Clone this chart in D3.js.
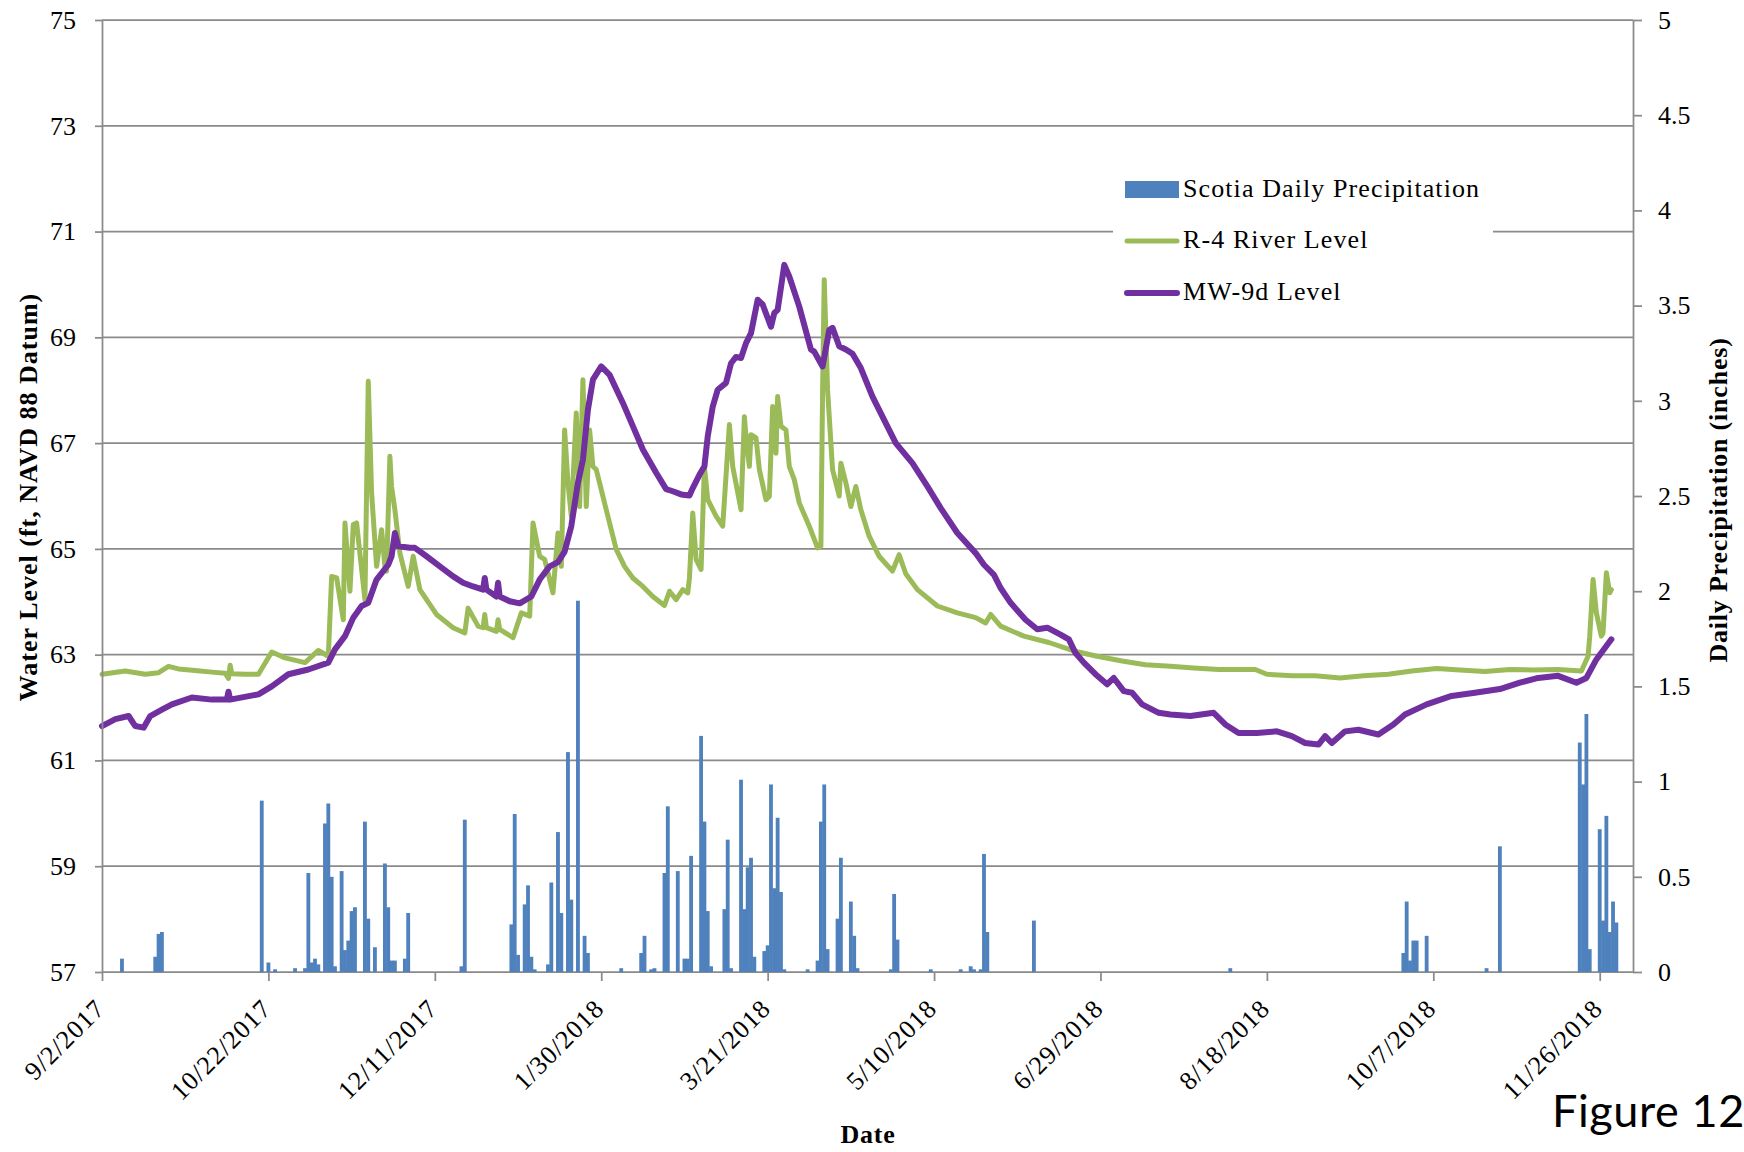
<!DOCTYPE html>
<html><head><meta charset="utf-8">
<script src="https://cdn.jsdelivr.net/npm/d3@7"></script>
<style>
html,body{margin:0;padding:0;background:#fff;}
svg{display:block;}
</style></head><body>
<svg id="chart" width="1744" height="1152"></svg>
<script>
// ---------------- DATA ----------------
const seriesNames = ["Scotia Daily Precipitation", "R-4 River Level", "MW-9d Level"];
const xTickLabels = ["9/2/2017","10/22/2017","12/11/2017","1/30/2018","3/21/2018","5/10/2018","6/29/2018","8/18/2018","10/7/2018","11/26/2018"];
const xDomain = ["2017-09-02", "2018-12-06"];
const leftTicks = [57,59,61,63,65,67,69,71,73,75];
const rightTicks = [0,0.5,1,1.5,2,2.5,3,3.5,4,4.5,5];
const rightTickLabels = ["0","0.5","1","1.5","2","2.5","3","3.5","4","4.5","5"];

const precipDates = ["2017-09-08","2017-09-18","2017-09-19","2017-09-20","2017-10-20","2017-10-22","2017-10-24","2017-10-30",
"2017-11-02","2017-11-03","2017-11-04","2017-11-05","2017-11-06","2017-11-08","2017-11-09","2017-11-10","2017-11-11",
"2017-11-13","2017-11-14","2017-11-15","2017-11-16","2017-11-17","2017-11-20","2017-11-21","2017-11-23","2017-11-26",
"2017-11-27","2017-11-28","2017-11-29","2017-12-02","2017-12-03","2017-12-19","2017-12-20","2018-01-03","2018-01-04",
"2018-01-05","2018-01-07","2018-01-08","2018-01-09","2018-01-10","2018-01-14","2018-01-15","2018-01-17","2018-01-18",
"2018-01-20","2018-01-21","2018-01-23","2018-01-25","2018-01-26","2018-02-05","2018-02-11","2018-02-12","2018-02-14",
"2018-02-15","2018-02-18","2018-02-19","2018-02-22","2018-02-24","2018-02-25","2018-02-26","2018-03-01","2018-03-02",
"2018-03-03","2018-03-04","2018-03-08","2018-03-09","2018-03-10","2018-03-13","2018-03-14","2018-03-15","2018-03-16",
"2018-03-17","2018-03-20","2018-03-21","2018-03-22","2018-03-23","2018-03-24","2018-03-25","2018-03-26","2018-04-02",
"2018-04-05","2018-04-06","2018-04-07","2018-04-08","2018-04-11","2018-04-12","2018-04-15","2018-04-16","2018-04-17",
"2018-04-27","2018-04-28","2018-04-29","2018-05-09","2018-05-18","2018-05-21","2018-05-22","2018-05-24","2018-05-25",
"2018-05-26","2018-06-09","2018-08-07","2018-09-28","2018-09-29","2018-09-30","2018-10-01","2018-10-02","2018-10-05",
"2018-10-23","2018-10-27","2018-11-20","2018-11-21","2018-11-22","2018-11-23","2018-11-26","2018-11-27","2018-11-28",
"2018-11-29","2018-11-30","2018-12-01"];
const precipValues = [0.07,0.08,0.20,0.21,0.90,0.05,0.014,0.02,
0.02,0.52,0.05,0.07,0.04,0.78,0.885,0.50,0.03,
0.53,0.115,0.165,0.32,0.34,0.79,0.28,0.13,0.57,
0.34,0.06,0.06,0.07,0.31,0.03,0.80,0.25,0.83,
0.09,0.355,0.455,0.08,0.014,0.04,0.47,0.735,0.31,
1.155,0.38,1.95,0.19,0.10,0.02,0.10,0.19,0.014,
0.02,0.52,0.87,0.53,0.07,0.07,0.61,1.24,0.79,
0.32,0.03,0.33,0.695,0.02,1.01,0.33,0.55,0.60,
0.08,0.11,0.14,0.985,0.44,0.81,0.42,0.014,0.014,
0.06,0.79,0.985,0.12,0.28,0.60,0.37,0.19,0.02,
0.014,0.41,0.17,0.014,0.014,0.03,0.014,0.014,0.62,
0.21,0.27,0.02,0.10,0.37,0.06,0.165,0.165,0.19,
0.02,0.66,1.205,0.985,1.355,0.12,0.75,0.27,0.82,
0.21,0.37,0.26];

const riverDates = ["2017-09-02","2017-09-09","2017-09-15","2017-09-19","2017-09-22","2017-09-25","2017-09-30","2017-10-05",
"2017-10-09","2017-10-10","2017-10-10 12","2017-10-11","2017-10-15","2017-10-19","2017-10-23","2017-10-27","2017-11-02",
"2017-11-06","2017-11-09","2017-11-10","2017-11-11 12","2017-11-13 12","2017-11-14","2017-11-15 12","2017-11-16 12",
"2017-11-17 12","2017-11-20","2017-11-21","2017-11-22","2017-11-23 12","2017-11-25","2017-11-26","2017-11-26 12",
"2017-11-27 12","2017-11-28","2017-11-29","2017-11-30 12","2017-12-03","2017-12-04 12","2017-12-06 12","2017-12-11 12",
"2017-12-16 12","2017-12-20","2017-12-21","2017-12-24","2017-12-25 12","2017-12-26","2017-12-26 12","2017-12-29 12",
"2017-12-30","2017-12-30 12","2018-01-03 12","2018-01-06","2018-01-08 12","2018-01-09 12","2018-01-11 12","2018-01-13",
"2018-01-15 12","2018-01-17","2018-01-18","2018-01-19","2018-01-20","2018-01-21","2018-01-22 12","2018-01-23 12",
"2018-01-24 12","2018-01-25 12","2018-01-26 12","2018-01-27 12","2018-01-28 12","2018-01-29 12","2018-01-31 12",
"2018-02-03 12","2018-02-06","2018-02-08 12","2018-02-11 12","2018-02-14 12","2018-02-18","2018-02-19 12","2018-02-21 12",
"2018-02-23 12","2018-02-25","2018-02-25 12","2018-02-26 12","2018-02-27 12","2018-03-01","2018-03-02","2018-03-03",
"2018-03-05 12","2018-03-07 12","2018-03-09 12","2018-03-10 12","2018-03-13","2018-03-14","2018-03-14 12","2018-03-15 12",
"2018-03-16","2018-03-17 12","2018-03-18 12","2018-03-20 12","2018-03-21 12","2018-03-22 12","2018-03-23 12","2018-03-24",
"2018-03-25","2018-03-26 12","2018-03-27 12","2018-03-29","2018-03-30 12","2018-04-02 12","2018-04-05","2018-04-06",
"2018-04-06 12","2018-04-07","2018-04-08","2018-04-09 12","2018-04-11 12","2018-04-12","2018-04-13 12","2018-04-15",
"2018-04-16 12","2018-04-18","2018-04-20 12","2018-04-23 12","2018-04-27 12","2018-04-29 12","2018-05-01 12","2018-05-05",
"2018-05-11","2018-05-17","2018-05-22 12","2018-05-25 12","2018-05-27","2018-05-30","2018-06-06","2018-06-13 12",
"2018-06-21","2018-06-28","2018-07-05 12","2018-07-12 12","2018-07-20","2018-07-27","2018-08-03 12","2018-08-14 12",
"2018-08-18","2018-08-25 12","2018-09-01 12","2018-09-09","2018-09-16","2018-09-23 12","2018-09-30 12","2018-10-08",
"2018-10-15","2018-10-22 12","2018-10-30","2018-11-06","2018-11-13 12","2018-11-20 12","2018-11-22 12","2018-11-23",
"2018-11-24","2018-11-25","2018-11-26 12","2018-11-27","2018-11-28","2018-11-29","2018-11-29 12"];
const riverValues = [62.63,62.69,62.63,62.66,62.78,62.73,62.70,62.67,
62.65,62.55,62.80,62.64,62.63,62.63,63.05,62.94,62.85,
63.08,62.97,64.48,64.45,63.66,65.49,64.20,65.46,
65.49,64.04,68.17,66.06,64.67,65.36,64.67,64.58,
66.75,66.18,65.74,64.92,64.29,64.86,64.23,63.76,
63.51,63.41,63.88,63.54,63.51,63.76,63.51,63.44,
63.66,63.48,63.32,63.79,63.73,65.49,64.86,64.80,
64.17,65.30,64.67,67.25,66.25,65.62,67.57,65.80,
68.20,65.80,67.25,66.56,66.50,66.25,65.74,
64.99,64.67,64.45,64.29,64.10,63.93,64.20,64.04,
64.23,64.17,64.45,65.68,64.80,64.61,66.56,65.93,
65.62,65.43,67.35,66.56,65.74,67.50,67.13,66.56,
67.16,67.10,66.50,65.93,65.99,67.69,66.81,67.88,
67.32,67.25,66.56,66.31,65.87,65.43,65.02,65.05,
67.95,70.09,68.01,66.50,66.00,66.62,66.25,65.80,
66.18,65.74,65.24,64.86,64.58,64.89,64.53,64.23,
63.92,63.79,63.70,63.60,63.76,63.54,63.35,63.23,
63.07,62.97,62.88,62.81,62.78,62.75,62.72,62.72,
62.63,62.60,62.60,62.56,62.60,62.63,62.69,62.74,
62.71,62.68,62.72,62.71,62.72,62.69,62.97,63.35,
64.42,63.79,63.35,63.41,64.55,64.17,64.23];

const mwDates = ["2017-09-02","2017-09-06","2017-09-10","2017-09-12","2017-09-14 12","2017-09-16 12","2017-09-20","2017-09-23",
"2017-09-29","2017-10-05","2017-10-09 12","2017-10-10","2017-10-10 12","2017-10-19","2017-10-23","2017-10-28","2017-11-03",
"2017-11-09","2017-11-11","2017-11-14","2017-11-16 12","2017-11-19","2017-11-21","2017-11-23 12","2017-11-27","2017-11-28",
"2017-11-29","2017-11-30","2017-12-03 12","2017-12-05","2017-12-08 12","2017-12-12 12","2017-12-16 12","2017-12-19 12",
"2017-12-22 12","2017-12-25 12","2017-12-26","2017-12-26 12","2017-12-29 12","2017-12-30","2017-12-30 12","2018-01-02 12",
"2018-01-05 12","2018-01-09","2018-01-11 12","2018-01-14 12","2018-01-17","2018-01-19","2018-01-21","2018-01-23",
"2018-01-24 12","2018-01-26","2018-01-27 12","2018-01-30","2018-02-01 12","2018-02-05 12","2018-02-08 12","2018-02-11 12",
"2018-02-15 12","2018-02-18 12","2018-02-20 12","2018-02-23","2018-02-25 12","2018-02-26 12","2018-02-28 12","2018-03-02",
"2018-03-03","2018-03-04 12","2018-03-06","2018-03-08 12","2018-03-10","2018-03-11 12","2018-03-13","2018-03-14 12",
"2018-03-16","2018-03-18","2018-03-19 12","2018-03-22","2018-03-23","2018-03-24","2018-03-26","2018-03-27 12",
"2018-03-30 12","2018-04-03","2018-04-04","2018-04-06 12","2018-04-08 12","2018-04-09 12","2018-04-11 12","2018-04-13 12",
"2018-04-15 12","2018-04-18","2018-04-21 12","2018-04-24 12","2018-04-28 12","2018-05-03 12","2018-05-08","2018-05-12",
"2018-05-17","2018-05-22 12","2018-05-25","2018-05-28","2018-05-30","2018-06-02","2018-06-06 12","2018-06-10",
"2018-06-13","2018-06-17","2018-06-19 12","2018-06-21 12","2018-06-24","2018-06-27 12","2018-07-01","2018-07-03",
"2018-07-06","2018-07-08 12","2018-07-11 12","2018-07-16 12","2018-07-20","2018-07-26","2018-08-02","2018-08-05 12",
"2018-08-09 12","2018-08-15","2018-08-21","2018-08-25 12","2018-08-29 12","2018-09-02 12","2018-09-04 12","2018-09-06 12",
"2018-09-10 12","2018-09-14 12","2018-09-20 12","2018-09-25","2018-09-28 12","2018-10-05","2018-10-12 12","2018-10-19 12",
"2018-10-27","2018-11-02","2018-11-07 12","2018-11-13 12","2018-11-19","2018-11-22","2018-11-25","2018-11-29 12"];
const mwValues = [61.65,61.78,61.84,61.65,61.62,61.84,61.96,62.06,
62.19,62.15,62.15,62.30,62.15,62.25,62.40,62.63,62.72,
62.85,63.10,63.35,63.70,63.92,63.98,64.42,64.70,64.86,
65.30,65.05,65.02,65.02,64.86,64.67,64.48,64.36,
64.29,64.23,64.45,64.23,64.10,64.36,64.10,64.01,
63.97,64.10,64.42,64.67,64.75,64.95,65.43,66.25,
66.69,67.63,68.20,68.45,68.29,67.76,67.32,66.88,
66.44,66.13,66.09,66.03,66.01,66.15,66.40,66.56,
67.13,67.69,68.01,68.14,68.51,68.63,68.61,68.89,
69.08,69.71,69.62,69.20,69.46,69.52,70.37,70.15,
69.58,68.77,68.73,68.45,69.14,69.18,68.83,68.77,
68.69,68.42,67.88,67.50,67.00,66.62,66.18,65.77,
65.30,64.92,64.70,64.51,64.26,63.98,63.66,63.48,
63.51,63.38,63.29,63.03,62.85,62.63,62.44,62.56,
62.31,62.28,62.06,61.90,61.87,61.84,61.90,61.68,
61.52,61.52,61.55,61.46,61.33,61.30,61.46,61.33,
61.55,61.58,61.49,61.68,61.87,62.06,62.22,62.28,
62.35,62.47,62.56,62.60,62.47,62.56,62.91,63.29];

// ---------------- CHART ----------------
const C = {blue:"#4F81BD", green:"#9BBB59", purple:"#7030A0", grid:"#8a8a8a"};
const M = {left:102, right:1633, top:20, bottom:972};
const serif = "'Liberation Serif', 'Times New Roman', serif";
const svg = d3.select("#chart");

const parseDay = d3.utcParse("%Y-%m-%d"), parseHr = d3.utcParse("%Y-%m-%d %H");
const parse = s => s.length > 10 ? parseHr(s) : parseDay(s);
const parseTick = d3.utcParse("%m/%d/%Y");

const x = d3.scaleUtc().domain(xDomain.map(parse)).range([M.left, M.right]);
const yL = d3.scaleLinear().domain([57, 75]).range([M.bottom, M.top]);
const yR = d3.scaleLinear().domain([0, 5]).range([M.bottom, M.top]);

// gridlines
svg.append("g").selectAll("line").data(leftTicks).join("line")
  .attr("x1", M.left).attr("x2", M.right)
  .attr("y1", d => yL(d)).attr("y2", d => yL(d))
  .attr("stroke", C.grid).attr("stroke-width", 1.75);

// bars
const precip = precipDates.map((d, i) => ({date: parse(d), v: precipValues[i]}));
const dayW = x(parse("2018-01-02")) - x(parse("2018-01-01"));
const bw = dayW * 1.15;
svg.append("g").selectAll("rect").data(precip).join("rect")
  .attr("x", d => x(d.date) - bw / 2)
  .attr("width", bw)
  .attr("y", d => yR(d.v))
  .attr("height", d => yR(0) - yR(d.v))
  .attr("fill", C.blue);

// lines
const river = riverDates.map((d, i) => ({date: parse(d), v: riverValues[i]}));
const mw = mwDates.map((d, i) => ({date: parse(d), v: mwValues[i]}));
const line = d3.line().x(d => x(d.date)).y(d => yL(d.v));
svg.append("path").datum(river).attr("d", line)
  .attr("fill", "none").attr("stroke", C.green).attr("stroke-width", 5)
  .attr("stroke-linejoin", "round").attr("stroke-linecap", "round");
svg.append("path").datum(mw).attr("d", line)
  .attr("fill", "none").attr("stroke", C.purple).attr("stroke-width", 6)
  .attr("stroke-linejoin", "round").attr("stroke-linecap", "round");

// axes
function styleAxis(g) {
  g.selectAll(".domain").attr("stroke", C.grid).attr("stroke-width", 1.75);
  g.selectAll(".tick line").attr("stroke", C.grid).attr("stroke-width", 1.75);
  g.selectAll("text").attr("font-family", serif).attr("font-size", 26).attr("fill", "#000");
}
const gL = svg.append("g").attr("transform", `translate(${M.left},0)`)
  .call(d3.axisLeft(yL).tickValues(leftTicks).tickSize(7).tickSizeOuter(0).tickPadding(19).tickFormat(d3.format("d")));
styleAxis(gL);

const gR = svg.append("g").attr("transform", `translate(${M.right},0)`)
  .call(d3.axisRight(yR).tickValues(rightTicks).tickSize(9).tickSizeOuter(0).tickPadding(16)
    .tickFormat((d, i) => rightTickLabels[i]));
styleAxis(gR);

const tickDates = xTickLabels.map(parseTick);
const gB = svg.append("g").attr("transform", `translate(0,${M.bottom})`)
  .call(d3.axisBottom(x).tickValues(tickDates).tickSize(9).tickSizeOuter(0)
    .tickFormat((d, i) => xTickLabels[i]));
styleAxis(gB);
gB.select(".domain").remove();
gB.selectAll(".tick text")
  .attr("x", 0).attr("y", 0).attr("dy", 0)
  .attr("text-anchor", "end")
  .attr("letter-spacing", 1.1)
  .attr("transform", "translate(4,38) rotate(-45)");

// axis titles
svg.append("text").attr("transform", `translate(28,497) rotate(-90)`)
  .attr("text-anchor", "middle").attr("dy", "0.35em")
  .attr("font-family", serif).attr("font-weight", "bold").attr("font-size", 26).attr("letter-spacing", 1)
  .text("Water Level (ft, NAVD 88 Datum)");
svg.append("text").attr("transform", `translate(1718,500) rotate(-90)`)
  .attr("text-anchor", "middle").attr("dy", "0.35em")
  .attr("font-family", serif).attr("font-weight", "bold").attr("font-size", 26).attr("letter-spacing", 0.8)
  .text("Daily Precipitation (inches)");
svg.append("text").attr("x", 868).attr("y", 1143).attr("text-anchor", "middle")
  .attr("font-family", serif).attr("font-weight", "bold").attr("font-size", 26).attr("letter-spacing", 0.8)
  .text("Date");

// legend
const lg = svg.append("g");
lg.append("rect").attr("x", 1113).attr("y", 150).attr("width", 380).attr("height", 165).attr("fill", "#fff");
const legendRows = [
  {name: seriesNames[0], type: "bar", color: C.blue, y: 190},
  {name: seriesNames[1], type: "line", color: C.green, y: 241},
  {name: seriesNames[2], type: "line", color: C.purple, y: 293}
];
legendRows.forEach(r => {
  if (r.type === "bar") {
    lg.append("rect").attr("x", 1125).attr("y", r.y - 9).attr("width", 54).attr("height", 17).attr("fill", r.color);
  } else {
    lg.append("line").attr("x1", 1127).attr("x2", 1177).attr("y1", r.y).attr("y2", r.y)
      .attr("stroke", r.color).attr("stroke-width", r.color === C.purple ? 6 : 5).attr("stroke-linecap", "round");
  }
  lg.append("text").attr("x", 1183).attr("y", r.y + 7)
    .attr("font-family", serif).attr("font-size", 26).attr("letter-spacing", 1.1).attr("fill", "#000")
    .text(r.name);
});

// figure label
svg.append("text").attr("x", 1552).attr("y", 1127)
  .attr("font-family", "Lato, 'Open Sans', sans-serif").attr("font-size", 45).attr("letter-spacing", 0.6)
  .attr("fill", "#000").text("Figure 12");
</script>
</body></html>
